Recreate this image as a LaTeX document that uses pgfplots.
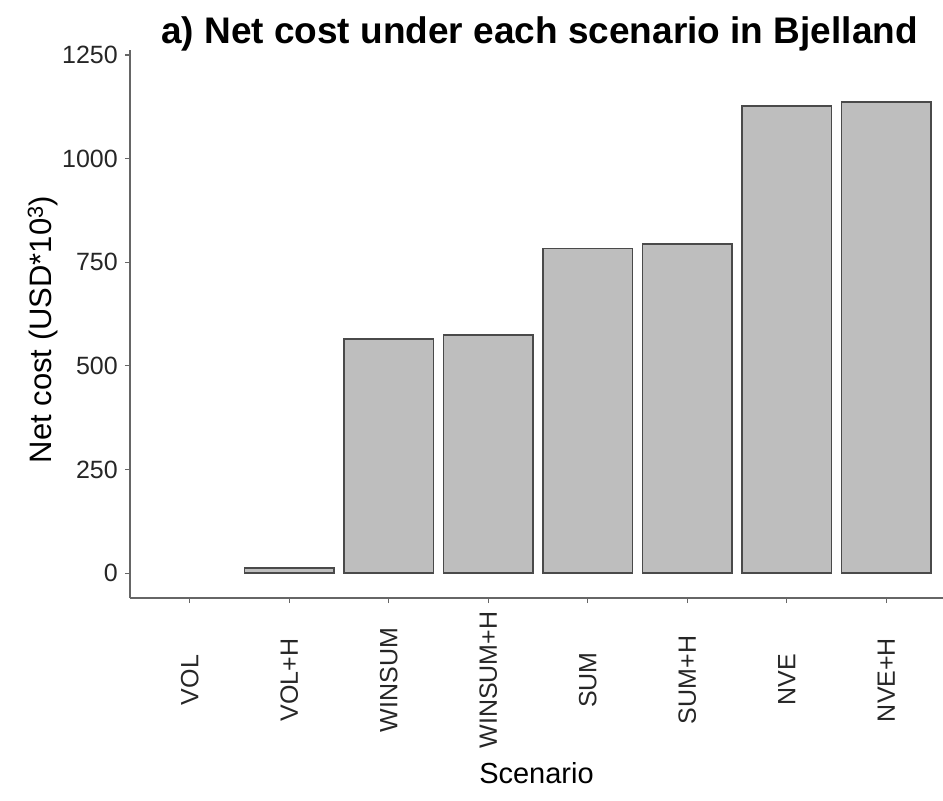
\documentclass[border=0pt]{standalone}
\usepackage{pgfplots}
\pgfplotsset{compat=1.18}
\usepackage{fontspec}
\setmainfont{Liberation Sans}
\definecolor{barfill}{HTML}{BEBEBE}
\definecolor{barline}{HTML}{4A4A4A}
\definecolor{axcol}{HTML}{666666}
\begin{document}
\begin{tikzpicture}
\begin{axis}[
  scale only axis, width=813bp, height=548bp,
  xmin=0.4, xmax=8.57, ymin=-60, ymax=1262,
  axis x line*=bottom, axis y line*=left,
  axis line style={axcol, line width=1.3bp, -},
  xtick={1,2,3,4,5,6,7,8},
  xticklabels={VOL,VOL+H,WINSUM,WINSUM+H,SUM,SUM+H,NVE,NVE+H},
  ytick={0,250,500,750,1000,1250},
  tick align=outside, major tick length=5bp,
  tick style={axcol, line width=1.1bp},
  /pgf/number format/assume math mode=true,
  /pgf/number format/1000 sep={},
  ticklabel style={font=\fontsize{25bp}{30bp}\selectfont, text=black!85, inner sep=0pt},
  yticklabel style={anchor=east},
  yticklabel shift=7bp,
  xticklabel style={rotate=90, anchor=center},
  xticklabel shift=77bp,
  xlabel={Scenario},
  xlabel style={font=\fontsize{29bp}{34bp}\selectfont, at={(axis description cs:0.5,0)}, anchor=center, yshift=-175bp},
  ylabel={Net cost (USD*10\textsuperscript{3})},
  ylabel style={font=\fontsize{31bp}{36bp}\selectfont, at={(axis description cs:-0.107,0.49)}, anchor=center, rotate=0},
  clip=false,
]
\addplot[ybar, bar width=0.9, fill=barfill, draw=barline, line width=1.8bp]
  coordinates {(2,12) (3,565) (4,574) (5,783) (6,794) (7,1127) (8,1137)};
\coordinate (ll) at (rel axis cs:0,0);
\coordinate (ur) at (rel axis cs:1,1);
\coordinate (tt) at (rel axis cs:0.5,1);
\end{axis}
\node[anchor=base, font=\bfseries\fontsize{37bp}{41bp}\selectfont] at ([xshift=3bp,yshift=6bp]tt) {a) Net cost under each scenario in Bjelland};
\pgfresetboundingbox
\path ([xshift=-130bp,yshift=-203bp]ll) rectangle ([yshift=50bp]ur);
\end{tikzpicture}
\end{document}
